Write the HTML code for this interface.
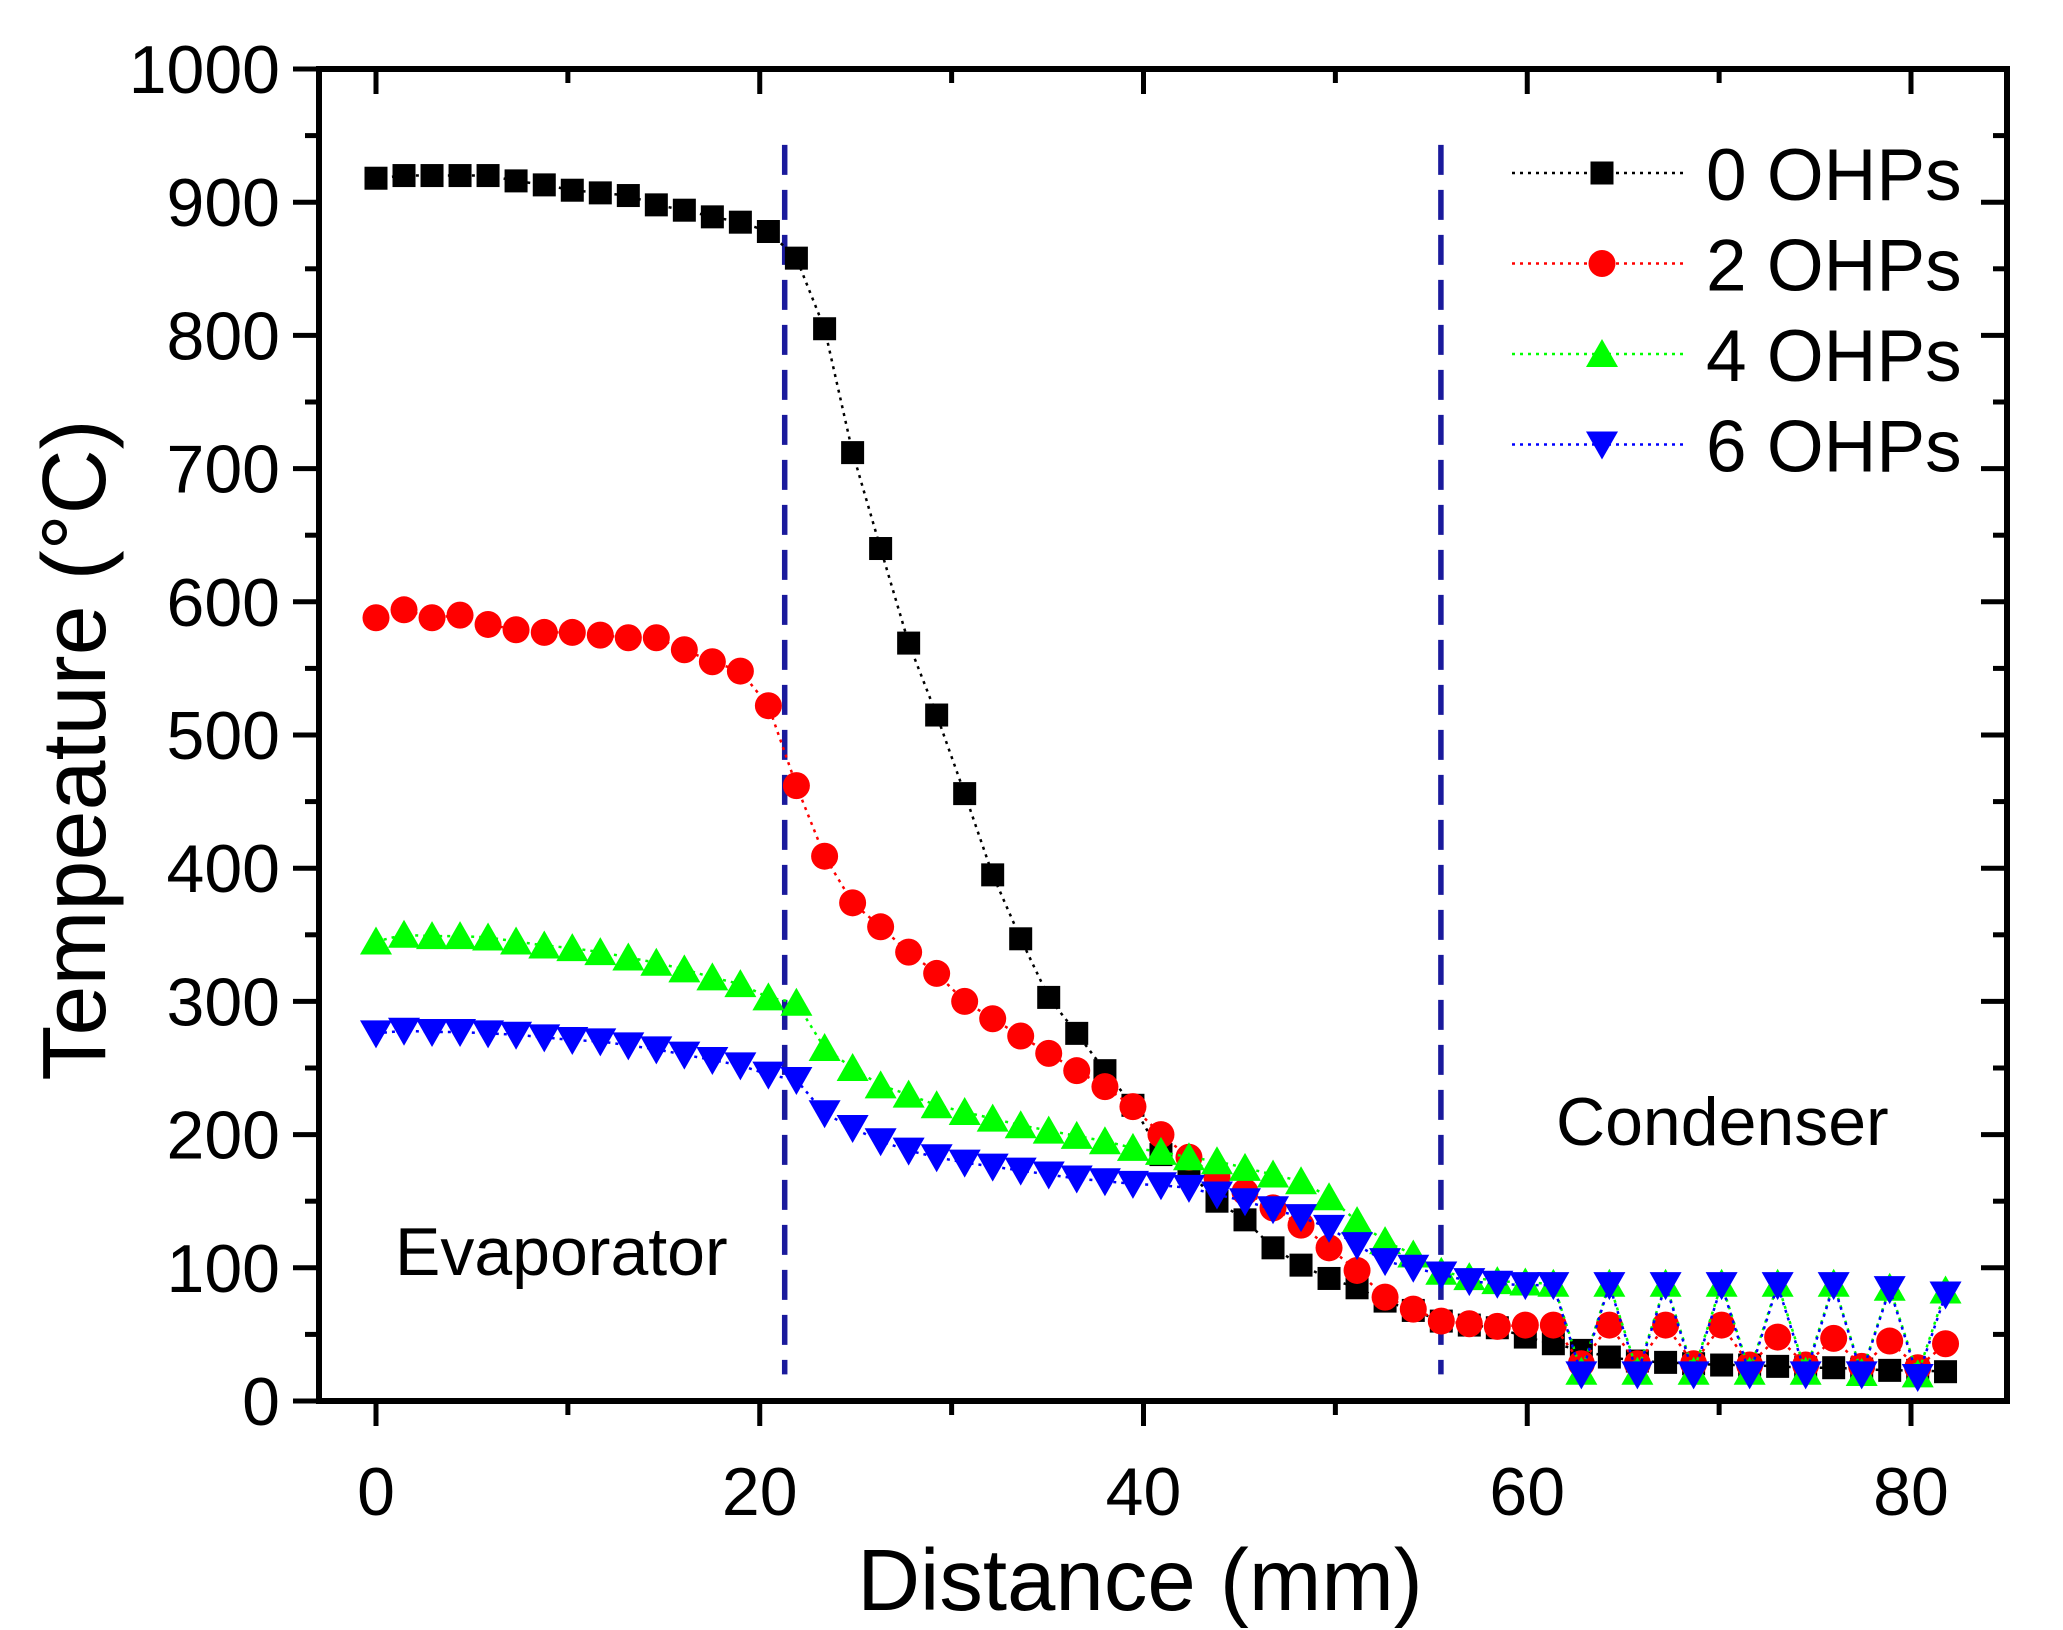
<!DOCTYPE html>
<html><head><meta charset="utf-8"><style>
html,body{margin:0;padding:0;background:#fff;}
svg{display:block;font-family:"Liberation Sans",Arial,sans-serif;}
</style></head><body>
<svg id="chart" width="2063" height="1630" viewBox="0 0 2063 1630" xmlns="http://www.w3.org/2000/svg">
<rect width="2063" height="1630" fill="#fff"/>
<g id="plot"></g>
</svg>
<script>
const distances=[0,1.46,2.92,4.38,5.84,7.3,8.77,10.23,11.69,13.15,14.61,16.07,17.53,18.99,20.45,21.91,23.38,24.84,26.3,27.76,29.22,30.68,32.14,33.6,35.06,36.52,37.99,39.45,40.91,42.37,43.83,45.29,46.75,48.21,49.67,51.13,52.59,54.06,55.52,56.98,58.44,59.9,61.36,62.82,64.28,65.74,67.21,68.67,70.13,71.59,73.05,74.51,75.97,77.43,78.89,80.35,81.8];
const ohp0=[918,920,920,920,920,916,913,909,907,905,898,894,889,885,878,858,805,712,640,569,515,456,395,347,303,276,248,222,185,172,150,136,115,102,92,85,75,68,60,57,55,48,43,38,33,30,29,28,27,27,26,25,25,24,23,23,22];
const ohp2=[588,594,588,590,583,579,577,577,575,573,573,564,555,548,522,462,409,374,356,337,321,300,287,274,261,248,236,221,200,183,168,157,145,132,115,98,78,69,60,58,56,57,57,28,57,28,57,28,57,27,48,27,47,26,45,25,43];
const ohp4=[345,350,349,349,348,345,342,340,337,333,329,324,318,313,303,299,265,250,237,230,222,217,212,207,203,199,195,190,187,183,180,175,170,165,153,135,120,110,97,93,90,89,88,22,88,22,88,22,88,22,88,22,88,21,85,20,83];
const ohp6=[276,278,277,277,276,275,273,271,270,267,264,260,256,252,245,241,216,205,195,188,183,179,176,173,170,167,165,163,162,160,155,150,144,138,130,117,105,100,95,90,88,87,87,20,87,20,87,20,87,20,87,20,87,20,84,18,80];
const seriesNames=["0 OHPs","2 OHPs","4 OHPs","6 OHPs"];
const yTicks=[0,100,200,300,400,500,600,700,800,900,1000];
const xTicks=[0,20,40,60,80];
const regionBounds=[21.3,55.5];

const NS="http://www.w3.org/2000/svg";
const L=319,R=2007,T=69,B=1401;
const X0=376,X80=1911;
function xs(v){return X0+(X80-X0)*v/80;}
function ys(v){return B-(B-T)*v/1000;}
const g=document.getElementById('plot');
function el(tag,attrs,parent){const e=document.createElementNS(NS,tag);for(const k in attrs)e.setAttribute(k,attrs[k]);(parent||g).appendChild(e);return e;}

regionBounds.forEach((b,i)=>{
  const ln=el('line',{x1:xs(b),x2:xs(b),y1:ys(943),y2:ys(20),stroke:'#1a1a9c','stroke-width':5.5,'stroke-dasharray':'30,15'});
  
  
});

const colors=['#000','#ff0000','#00ff00','#0000ff'];
const data=[ohp0,ohp2,ohp4,ohp6];
function marker(k,cx,cy,parent){
  let m;
  if(k===0) m=el('rect',{x:cx-11.5,y:cy-11.5,width:23,height:23,fill:colors[0]},parent);
  else if(k===1) m=el('circle',{cx:cx,cy:cy,r:13.5,fill:colors[1]},parent);
  else if(k===2) m=el('polygon',{points:`${cx-16},${cy+13} ${cx+16},${cy+13} ${cx},${cy-15}`,fill:colors[2]},parent);
  else m=el('polygon',{points:`${cx-16},${cy-13} ${cx+16},${cy-13} ${cx},${cy+15}`,fill:colors[3]},parent);
  return m;
}
data.forEach((arr,k)=>{
  const sg=el('g',{});
  
  
  const pts=arr.map((v,i)=>xs(distances[i])+','+ys(v)).join(' ');
  el('polyline',{points:pts,fill:'none',stroke:colors[k],'stroke-width':2.5,'stroke-dasharray':'3,5'},sg);
  arr.forEach((v,i)=>{
    const m=marker(k,xs(distances[i]),ys(v),sg);
    
    
  });
});

const frame=el('rect',{x:L,y:T,width:R-L,height:B-T,fill:'none',stroke:'#000','stroke-width':6});



for(let v=0;v<=1000;v+=50){
  const major=v%100===0, len=major?26:14;
  el('line',{x1:L-len,x2:L,y1:ys(v),y2:ys(v),stroke:'#000','stroke-width':5});
  el('line',{x1:R-len,x2:R,y1:ys(v),y2:ys(v),stroke:'#000','stroke-width':5});
}
yTicks.forEach(v=>{
  const t=el('text',{x:280,y:ys(v)+24,'text-anchor':'end','font-size':68,fill:'#000'});
  t.textContent=v;
  
  
});
for(let v=0;v<=80;v+=10){
  const major=v%20===0, len=major?25:14;
  el('line',{x1:xs(v),x2:xs(v),y1:B,y2:B+len,stroke:'#000','stroke-width':5});
  el('line',{x1:xs(v),x2:xs(v),y1:T,y2:T+len,stroke:'#000','stroke-width':5});
}
xTicks.forEach(v=>{
  const t=el('text',{x:xs(v),y:1515,'text-anchor':'middle','font-size':68,fill:'#000'});
  t.textContent=v;
  
  
});

const xt=el('text',{x:1140,y:1610,'text-anchor':'middle','font-size':87,fill:'#000'});
xt.textContent='Distance (mm)';


const yt=el('text',{x:0,y:0,'text-anchor':'middle','font-size':90,fill:'#000',transform:'translate(105,750) rotate(-90)'});
yt.textContent='Tempeature (°C)';


const ev=el('text',{x:395,y:1275,'font-size':68,fill:'#000'});
ev.textContent='Evaporator';


const co=el('text',{x:1556,y:1145,'font-size':68,fill:'#000'});
co.textContent='Condenser';



const lg=el('g',{});


seriesNames.forEach((n,k)=>{
  const cy=173+k*90.5;
  const eg=el('g',{},lg);
  
  
  el('line',{x1:1512,x2:1686,y1:cy,y2:cy,stroke:colors[k],'stroke-width':2.5,'stroke-dasharray':'3,5'},eg);
  marker(k,1602,cy,eg);
  const t=el('text',{x:1706,y:cy+27,'font-size':73,fill:'#000'},eg);
  t.textContent=n;
});
</script>
</body></html>
